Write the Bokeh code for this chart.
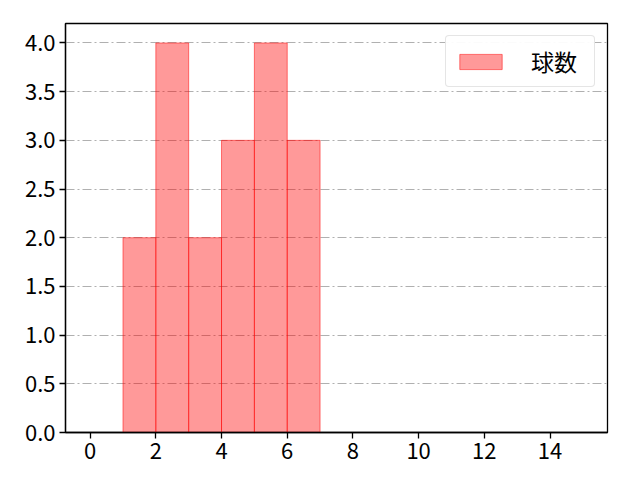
from bokeh.plotting import figure
from bokeh.models import FixedTicker, Range1d, NumeralTickFormatter, Legend, LegendItem
from bokeh.embed import file_html
from bokeh.resources import INLINE

bin_left = [1, 2, 3, 4, 5, 6]
bin_right = [2, 3, 4, 5, 6, 7]
counts = [2, 4, 2, 3, 4, 3]
series_label = "球数"
x_ticks = [0, 2, 4, 6, 8, 10, 12, 14]
y_ticks = [0, 0.5, 1.0, 1.5, 2.0, 2.5, 3.0, 3.5, 4.0]

FONT = "Noto Sans CJK JP"

p = figure(width=624, height=464, output_backend="svg", toolbar_location=None,
           x_range=Range1d(-0.75, 15.75), y_range=Range1d(0, 4.2),
           min_border_left=65, min_border_right=17, min_border_top=23, min_border_bottom=32)

r = p.quad(left=bin_left, right=bin_right, bottom=0, top=counts,
           fill_color="#ff0000", fill_alpha=0.4, line_color="#ff0000", line_alpha=0.5, line_width=1)

p.xgrid.visible = False
p.ygrid.grid_line_color = "#b0b0b0"
p.ygrid.grid_line_dash = "9 3 2 3"
p.ygrid.grid_line_width = 1
p.ygrid.ticker = FixedTicker(ticks=y_ticks)

p.xaxis.ticker = FixedTicker(ticks=x_ticks)
p.yaxis.ticker = FixedTicker(ticks=y_ticks)
p.yaxis.formatter = NumeralTickFormatter(format="0.0")
for ax in (p.xaxis, p.yaxis):
    ax.major_label_text_font = FONT
    ax.major_label_text_font_size = "22px"
    ax.major_label_text_color = "#000000"
    ax.axis_line_color = "#000000"
    ax.axis_line_width = 1.3
    ax.major_tick_line_color = "#000000"
    ax.major_tick_line_width = 1.3
    ax.major_tick_in = 0
    ax.major_tick_out = 6
    ax.minor_tick_line_color = None
    ax.major_label_standoff = 4

p.outline_line_color = "#000000"
p.outline_line_width = 1.3
p.outline_line_alpha = 1.0

legend = Legend(items=[LegendItem(label=series_label, renderers=[r])], location="top_right")
legend.label_text_font = FONT
legend.label_text_font_size = "23px"
legend.label_text_color = "#000000"
legend.border_line_color = "#cccccc"
legend.border_line_width = 1
legend.border_radius = 4
legend.glyph_width = 53
legend.glyph_height = 19
legend.label_standoff = 24
legend.label_width = 55
legend.padding = 8
legend.margin = 12
legend.spacing = 0
p.add_layout(legend)

open("out.html", "w").write(file_html(p, INLINE))
